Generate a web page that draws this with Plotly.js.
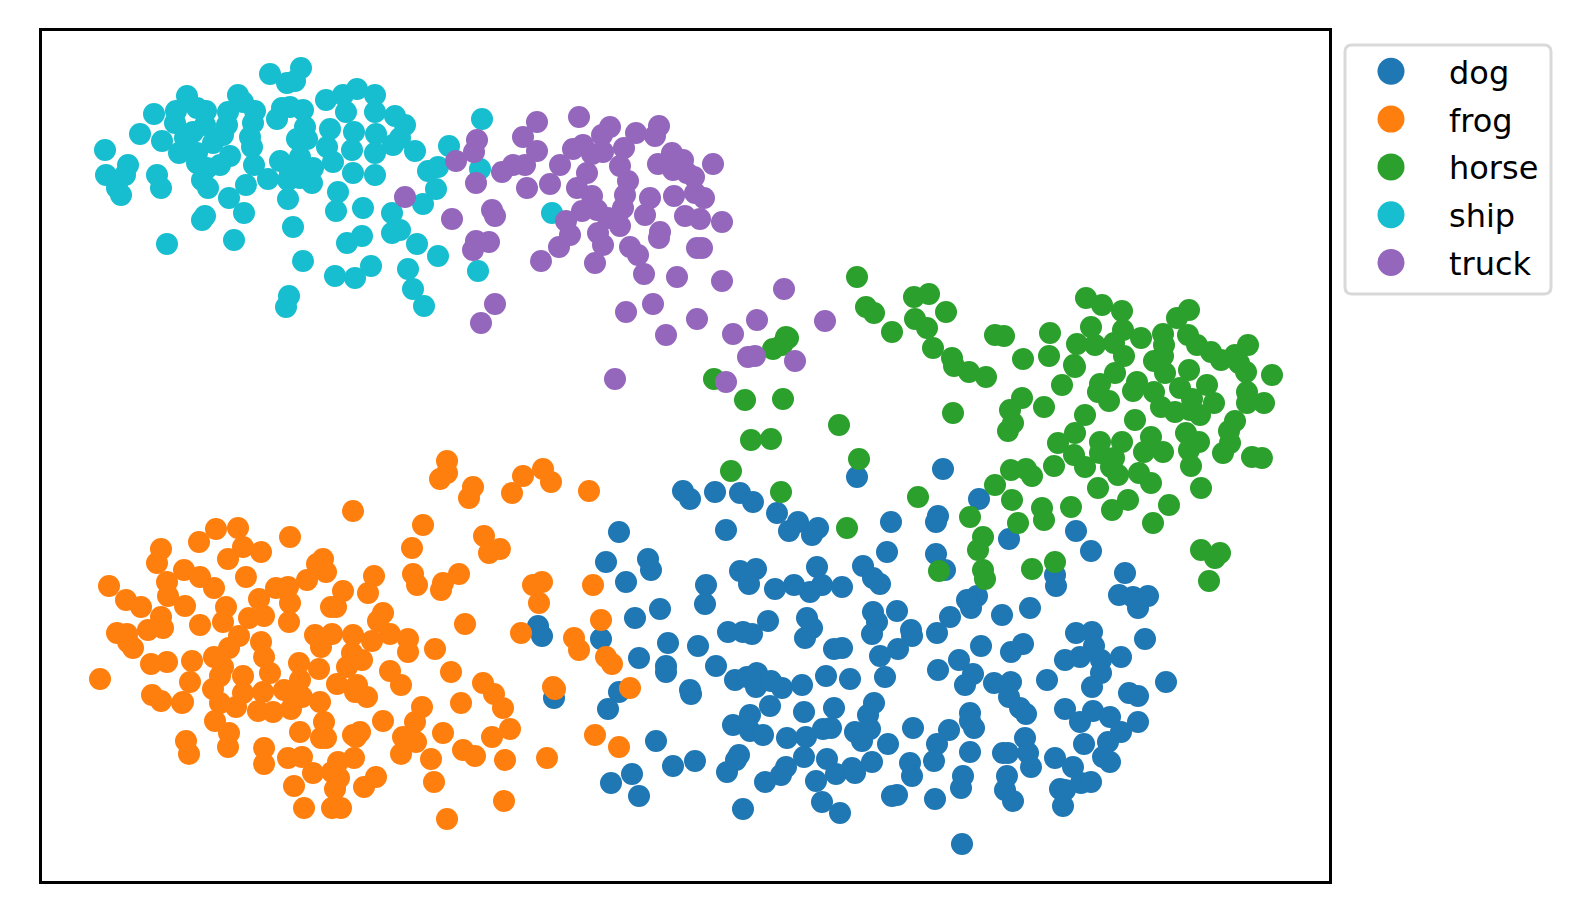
<!DOCTYPE html>
<html>
<head>
<meta charset="utf-8">
<script src="https://cdn.plot.ly/plotly-3.0.1.min.js"></script>
<style>html,body{margin:0;padding:0;background:#fff}</style>
</head>
<body>
<div id="chart" style="width:1578px;height:924px"></div>
<script>
// t-SNE style embedding, values as [x, y]
const categories = ['dog','frog','horse','ship','truck'];
const colors = ['#1f77b4','#ff7f0e','#2ca02c','#17becf','#9467bd'];
const dog = [[683,491],[690,499],[715,492],[740,493],[753,502],[777,513],[798,522],[789,531],[812,535],[818,528],[857,477],[891,522],[726,530],[619,532],[887,552],[863,566],[873,578],[880,584],[817,567],[822,585],[810,592],[794,585],[775,589],[842,587],[740,571],[756,569],[749,584],[706,585],[705,604],[606,562],[626,582],[648,559],[651,570],[873,612],[877,622],[872,634],[897,611],[911,630],[912,636],[898,649],[880,656],[885,677],[807,618],[812,628],[805,638],[768,621],[728,632],[743,632],[752,634],[834,649],[842,648],[635,618],[660,609],[668,643],[698,646],[639,658],[666,666],[666,672],[716,666],[690,690],[691,694],[619,692],[608,709],[735,680],[747,677],[757,673],[756,687],[771,681],[782,688],[802,685],[826,676],[850,679],[770,706],[804,712],[834,708],[874,703],[868,715],[750,715],[733,725],[750,731],[763,735],[787,738],[806,737],[823,729],[831,728],[855,732],[870,729],[862,741],[913,728],[888,744],[804,757],[827,759],[836,774],[852,768],[855,773],[872,762],[656,741],[673,766],[695,761],[739,755],[736,760],[727,772],[786,767],[781,775],[765,782],[816,781],[822,802],[840,813],[743,809],[611,783],[632,774],[639,796],[910,763],[912,776],[897,795],[892,796],[538,626],[542,636],[601,639],[554,698],[943,469],[979,499],[938,516],[936,522],[936,554],[945,570],[1009,539],[1076,531],[1091,551],[1055,575],[1056,586],[1125,573],[1119,595],[1133,597],[1148,596],[1138,608],[977,596],[967,600],[971,608],[950,617],[1002,615],[1030,608],[937,633],[981,646],[1023,644],[1011,652],[1076,633],[1092,632],[1094,646],[1080,657],[1065,660],[1101,660],[1121,657],[1145,639],[959,660],[938,670],[973,674],[965,685],[994,683],[1011,682],[1009,697],[1020,708],[1026,714],[1047,680],[1101,673],[1092,687],[1166,682],[1129,693],[1138,696],[1065,709],[1080,722],[1093,711],[1110,717],[1121,732],[1138,722],[1108,742],[1084,744],[1103,757],[1110,762],[970,713],[970,721],[974,728],[949,730],[937,744],[934,761],[970,752],[935,799],[963,776],[961,788],[1003,753],[1008,753],[1025,738],[1028,753],[1031,767],[1007,776],[1005,790],[1013,801],[1055,758],[1073,767],[1081,783],[1091,782],[1060,789],[1065,790],[1063,806],[962,844]];
const frog = [[353,511],[216,529],[238,528],[199,542],[290,537],[243,547],[261,552],[228,559],[161,549],[157,563],[323,559],[317,564],[326,572],[307,580],[184,570],[200,577],[214,588],[246,577],[109,586],[126,600],[141,607],[167,582],[168,596],[185,606],[226,607],[223,622],[200,625],[161,617],[148,630],[163,628],[259,599],[276,588],[288,587],[290,603],[289,622],[249,618],[264,616],[239,636],[229,648],[214,657],[223,667],[220,676],[213,689],[220,703],[236,707],[243,676],[243,693],[261,642],[264,657],[270,673],[263,692],[258,711],[273,712],[291,709],[284,690],[293,697],[302,697],[300,680],[299,663],[319,669],[320,702],[337,684],[355,692],[357,685],[367,697],[117,633],[127,634],[128,642],[133,648],[151,664],[167,662],[192,661],[190,682],[182,703],[183,702],[152,695],[161,701],[100,679],[315,635],[321,647],[332,634],[343,591],[331,607],[336,607],[353,635],[372,641],[352,653],[362,660],[347,667],[368,593],[374,576],[378,621],[383,721],[215,721],[229,733],[228,747],[186,741],[189,754],[264,748],[264,764],[300,732],[324,722],[321,738],[326,738],[288,758],[302,757],[313,773],[294,786],[338,762],[354,758],[332,772],[339,778],[335,789],[304,808],[332,808],[341,808],[353,735],[360,732],[356,737],[364,787],[376,777],[447,461],[447,473],[440,479],[473,487],[469,498],[523,476],[543,469],[551,482],[512,493],[589,491],[423,525],[412,548],[484,536],[489,553],[500,549],[413,574],[417,585],[443,583],[459,574],[441,590],[383,613],[390,634],[408,639],[408,652],[435,649],[465,624],[542,582],[533,585],[539,603],[521,633],[593,585],[601,620],[574,638],[579,650],[606,657],[612,664],[553,687],[555,689],[630,688],[451,672],[390,671],[401,685],[483,683],[494,694],[503,708],[461,703],[422,707],[415,722],[403,737],[416,742],[401,754],[443,733],[510,729],[492,737],[463,750],[475,756],[431,759],[505,760],[547,758],[595,735],[619,747],[434,782],[504,801],[447,819]];
const horse = [[857,277],[914,297],[929,294],[866,307],[874,313],[946,312],[892,332],[915,319],[927,328],[933,348],[952,358],[954,366],[969,372],[986,377],[995,335],[1004,336],[1023,359],[1050,333],[1049,356],[1077,344],[1074,365],[1075,367],[1086,298],[1102,305],[1122,311],[1091,327],[1123,330],[1095,345],[1114,343],[1124,356],[1141,338],[1177,318],[1189,310],[1163,334],[1164,345],[1163,356],[1154,361],[1165,373],[1188,335],[1197,345],[1211,352],[1221,360],[1235,355],[1248,345],[1239,363],[1246,372],[1272,375],[1189,370],[1115,373],[1100,384],[1098,392],[1109,401],[1137,382],[1133,391],[1154,392],[1180,388],[1207,385],[1247,392],[1247,403],[1264,403],[1161,407],[1175,412],[1192,399],[1190,410],[1200,415],[1214,403],[1062,385],[1022,398],[1010,410],[1044,407],[1013,423],[1008,431],[953,413],[1085,415],[1135,420],[1235,421],[1229,431],[1230,443],[1223,453],[1075,433],[1058,443],[1100,442],[1122,442],[1151,437],[1186,433],[1199,442],[1189,450],[1144,452],[1163,452],[1074,455],[1100,453],[1114,458],[1085,467],[1111,467],[1118,475],[1139,473],[1151,483],[1191,466],[1252,457],[1262,458],[1054,466],[1011,470],[1026,469],[1032,476],[995,485],[1098,488],[1201,488],[1012,500],[918,497],[1128,500],[1112,510],[1169,505],[1071,507],[1042,508],[1044,520],[1018,523],[970,517],[1153,523],[983,537],[978,550],[1201,550],[1220,553],[1215,558],[1209,581],[983,570],[985,579],[1032,569],[1055,562],[939,571],[847,528],[781,492],[731,471],[859,459],[839,425],[751,440],[771,439],[745,400],[783,399],[714,379],[786,337],[782,345],[773,349],[788,338]];
const ship = [[270,74],[301,68],[287,83],[295,81],[187,96],[176,111],[197,108],[206,111],[175,123],[154,114],[140,134],[162,141],[105,150],[205,125],[193,132],[185,138],[179,153],[128,165],[106,175],[125,175],[117,188],[121,195],[157,175],[161,188],[238,95],[243,102],[228,112],[255,111],[253,123],[223,135],[250,137],[252,147],[227,125],[197,153],[197,163],[230,156],[220,165],[207,168],[202,180],[208,188],[254,165],[213,143],[282,108],[290,107],[303,110],[277,119],[305,127],[297,139],[307,139],[300,157],[280,161],[313,168],[290,173],[300,178],[268,179],[312,183],[288,180],[288,199],[326,100],[343,95],[357,89],[375,95],[346,112],[375,112],[330,129],[354,132],[376,134],[327,147],[352,150],[375,153],[333,162],[395,116],[405,125],[400,138],[393,145],[415,151],[353,173],[375,175],[246,185],[229,198],[244,213],[205,216],[202,220],[234,240],[167,244],[293,227],[338,192],[336,211],[363,208],[392,213],[400,230],[392,233],[362,236],[347,243],[417,244],[438,256],[303,261],[371,266],[408,269],[335,276],[355,278],[413,289],[289,296],[286,307],[424,306],[423,204],[436,189],[428,171],[438,167],[449,146],[482,119],[480,169],[552,213],[478,271]];
const truck = [[579,117],[537,122],[610,127],[602,135],[659,126],[636,133],[655,136],[523,137],[477,140],[474,152],[456,161],[537,151],[583,145],[573,149],[592,154],[603,152],[624,148],[525,165],[513,165],[502,172],[560,165],[587,173],[620,166],[628,181],[476,183],[527,188],[550,184],[577,188],[592,196],[625,195],[650,198],[672,153],[658,164],[683,160],[673,170],[694,177],[687,173],[713,164],[674,196],[695,193],[704,198],[623,208],[582,211],[597,210],[608,218],[620,226],[645,215],[685,216],[700,219],[722,222],[452,219],[492,210],[495,216],[566,221],[570,235],[598,233],[603,245],[660,232],[659,238],[630,247],[638,255],[559,247],[476,241],[489,242],[473,250],[697,248],[702,248],[541,261],[595,263],[644,274],[677,277],[722,281],[784,289],[653,304],[626,312],[495,304],[481,323],[697,319],[666,335],[757,320],[733,334],[825,321],[748,357],[755,356],[795,361],[726,382],[615,379],[405,197]];
const seriesPoints = [dog, frog, horse, ship, truck];

// layout constants (figure pixels)
const W = 1578, H = 924, L = 42, R = 1329, T = 31, B = 881;
const px = v => (v - L) / (R - L);
const py = v => (B - v) / (B - T);
const box = {x0: 1345, x1: 1551, y0: 45, y1: 294, r: 7};

const traces = categories.map((name, i) => ({
  type: 'scatter', mode: 'markers', name,
  legendgroup: name,
  x: seriesPoints[i].map(p => p[0]),
  y: seriesPoints[i].map(p => p[1]),
  marker: {size: 22, color: colors[i], line: {width: 0}},
  hoverinfo: 'name'
}));

const hiddenAxis = {showgrid: false, zeroline: false, showticklabels: false, ticks: '',
  showline: true, mirror: true, linecolor: '#000', linewidth: 3};

const rr = (() => {
  const {x0, x1, y0, y1, r} = box;
  const X = v => px(v), Y = v => py(v);
  return `M ${X(x0 + r)} ${Y(y0)} L ${X(x1 - r)} ${Y(y0)} Q ${X(x1)} ${Y(y0)} ${X(x1)} ${Y(y0 + r)} ` +
    `L ${X(x1)} ${Y(y1 - r)} Q ${X(x1)} ${Y(y1)} ${X(x1 - r)} ${Y(y1)} L ${X(x0 + r)} ${Y(y1)} ` +
    `Q ${X(x0)} ${Y(y1)} ${X(x0)} ${Y(y1 - r)} L ${X(x0)} ${Y(y0 + r)} Q ${X(x0)} ${Y(y0)} ${X(x0 + r)} ${Y(y0)} Z`;
})();

const layout = {
  width: W, height: H, autosize: false,
  paper_bgcolor: '#fff', plot_bgcolor: '#fff',
  margin: {l: L, r: W - R, t: T, b: H - B, pad: 0},
  xaxis: Object.assign({range: [L, R]}, hiddenAxis),
  yaxis: Object.assign({range: [B, T]}, hiddenAxis),
  showlegend: true,
  legend: {
    x: px(box.x0 - 12), xanchor: 'left', y: py(box.y0 - 1), yanchor: 'top',
    bgcolor: 'rgba(0,0,0,0)', borderwidth: 0,
    font: {family: '"DejaVu Sans", sans-serif', size: 32, color: '#000'},
    itemwidth: 106, tracegroupgap: 3.2, traceorder: 'grouped', itemclick: false, itemdoubleclick: false
  },
  shapes: [{type: 'path', xref: 'paper', yref: 'paper', path: rr, layer: 'below',
    fillcolor: '#fff', line: {color: '#d9d9d9', width: 3}}]
};

Plotly.newPlot('chart', traces, layout, {displayModeBar: false}).then(() => {
  // matplotlib-sized legend handles (Plotly caps legend symbols at 16 px)
  const r = 13.5;
  const circle = `M${r},0A${r},${r} 0 1,1 0,-${r}A${r},${r} 0 0,1 ${r},0Z`;
  document.querySelectorAll('.legend .legendpoints path.scatterpts').forEach(p => p.setAttribute('d', circle));
});
</script>
</body>
</html>
